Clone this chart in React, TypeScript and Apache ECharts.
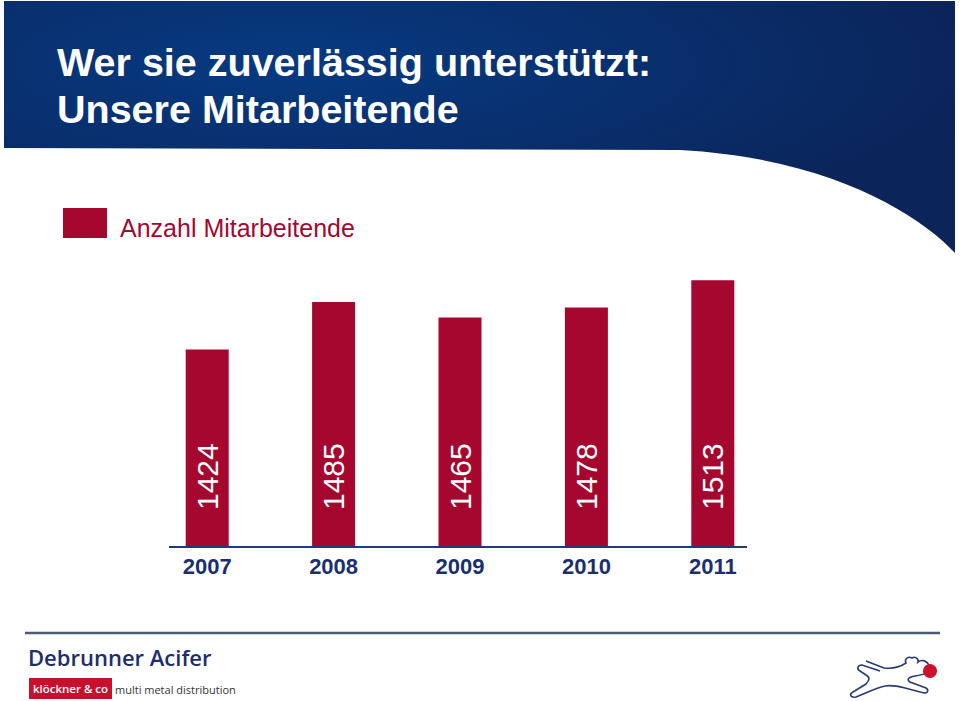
import React, { useEffect, useRef } from "react";
import * as echarts from "echarts";

const categories = ["2007", "2008", "2009", "2010", "2011"];
const employees = [1424, 1485, 1465, 1478, 1513];
const seriesName = "Anzahl Mitarbeitende";
const titleLines = ["Wer sie zuverlässig unterstützt:", "Unsere Mitarbeitende"];

const HEADER_D =
  "M4,1 L955,1 L955,253 C920,215 830,158 680,150 L4,148 Z";
const DOG_D =
  "M866,661 L884,668 C892,669 900,667 906,663 C904,659 908,656 912,658 C915,656 919,659 918,662 C922,659 927,661 929,665 " +
  "M928,672 C926,674 921,675 915,676 C909,677 906,679 910,682 L926,688 C929,690 928,693 924,693 L905,688 C897,686 890,685 885,686 " +
  "C876,688 866,693 856,697 C850,698 849,694 853,692 L866,684 C870,680 870,677 866,675 L860,671 C856,669 858,665 862,665 L880,671";

echarts.graphic.registerShape("headerBand", echarts.graphic.extendPath(HEADER_D, {}));
echarts.graphic.registerShape("dogLogo", echarts.graphic.extendPath(DOG_D, {}));

const FONT = "'Liberation Sans', Arial, Helvetica, sans-serif";
const RED = "#a6072f";
const NAVY = "#1b2f6e";

export default function App() {
  const ref = useRef<HTMLDivElement>(null);
  useEffect(() => {
    document.body.style.margin = "0";
    if (!ref.current) return;
    const chart = echarts.init(ref.current, null, { renderer: "svg" });
    chart.setOption({
      animation: false,
      backgroundColor: "#ffffff",
      grid: { left: 144, right: 184, top: 267, bottom: 154, containLabel: false },
      legend: {
        left: 63,
        top: 208,
        padding: 0,
        icon: "rect",
        itemWidth: 44,
        itemHeight: 30,
        data: [seriesName],
        selectedMode: false,
        formatter: "{t|{name}}",
        textStyle: {
          color: RED,
          fontSize: 25,
          fontFamily: FONT,
          rich: {
            t: {
              color: RED,
              fontSize: 25,
              fontFamily: FONT,
              padding: [10, 0, 0, 8],
            },
          },
        },
      },
      xAxis: {
        type: "category",
        data: categories,
        axisLine: { show: false },
        axisTick: { show: false },
        axisLabel: {
          color: NAVY,
          fontWeight: "bold",
          fontSize: 22,
          fontFamily: FONT,
          margin: 8,
        },
      },
      yAxis: { type: "value", min: 1170, max: 1530, show: false, splitLine: { show: false } },
      series: [
        {
          type: "bar",
          name: seriesName,
          data: employees,
          barWidth: 43,
          itemStyle: { color: RED },
          label: {
            show: true,
            position: "insideBottom",
            rotate: 90,
            align: "left",
            verticalAlign: "middle",
            distance: 37,
            color: "#ffffff",
            fontSize: 30,
            fontFamily: FONT,
          },
        },
      ],
      graphic: [
        {
          type: "headerBand",
          x: 0,
          y: 0,
          z: 0,
          style: {
            fill: {
              type: "radial",
              x: 0.3,
              y: 0.25,
              r: 0.75,
              colorStops: [
                { offset: 0, color: "#073a82" },
                { offset: 1, color: "#0b2459" },
              ],
            },
          },
        },
        {
          type: "text",
          x: 57,
          y: 62,
          z: 10,
          style: {
            text: titleLines[0],
            fill: "#ffffff",
            font: `bold 39.5px ${FONT}`,
            verticalAlign: "middle",
          },
        },
        {
          type: "text",
          x: 57,
          y: 109,
          z: 10,
          style: {
            text: titleLines[1],
            fill: "#ffffff",
            font: `bold 39.5px ${FONT}`,
            verticalAlign: "middle",
          },
        },
        {
          type: "line",
          z: 5,
          shape: { x1: 169, y1: 547, x2: 747, y2: 547 },
          style: { stroke: "#1f3a78", lineWidth: 2 },
        },
        {
          type: "line",
          shape: { x1: 25, y1: 633, x2: 940, y2: 633 },
          style: { stroke: "#4b5a75", lineWidth: 2.5 },
        },
        {
          type: "text",
          x: 28,
          y: 657,
          style: {
            text: "Debrunner Acifer",
            fill: "#1e2d6e",
            font: "600 22px 'Open Sans', sans-serif",
            verticalAlign: "middle",
          },
        },
        {
          type: "rect",
          shape: { x: 29, y: 678, width: 83, height: 21 },
          style: { fill: "#c8102e" },
        },
        {
          type: "text",
          x: 70.5,
          y: 688.5,
          style: {
            text: "klöckner & co",
            fill: "#ffffff",
            font: "600 11.5px 'Open Sans', sans-serif",
            align: "center",
            verticalAlign: "middle",
          },
        },
        {
          type: "text",
          x: 115,
          y: 689,
          style: {
            text: "multi metal distribution",
            fill: "#333333",
            font: "11px 'Open Sans', sans-serif",
            verticalAlign: "middle",
          },
        },
        {
          type: "dogLogo",
          x: 0,
          y: 0,
          style: { fill: "none", stroke: "#2a3a78", lineWidth: 1.6 },
        },
        {
          type: "circle",
          shape: { cx: 930, cy: 671, r: 7 },
          style: { fill: "#d0102a" },
        },
      ],
    });
    return () => chart.dispose();
  }, []);
  return <div ref={ref} style={{ width: 960, height: 701 }} />;
}
